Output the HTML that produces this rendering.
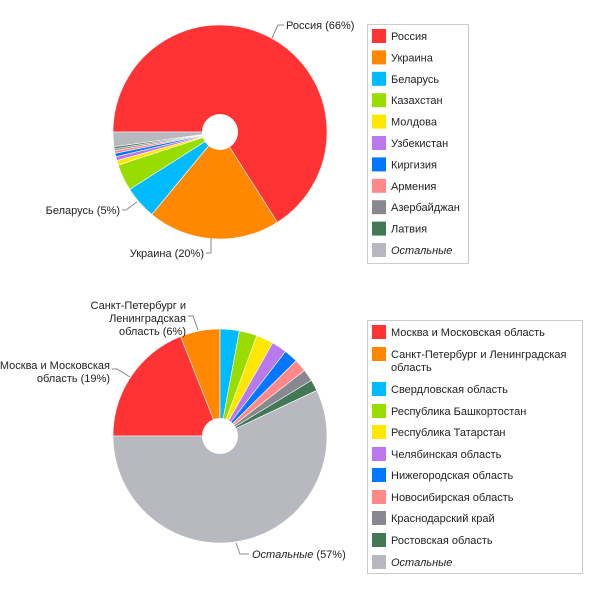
<!DOCTYPE html>
<html><head><meta charset="utf-8"><style>
body{margin:0;background:#fff;font-family:"Liberation Sans",Arial,sans-serif}
svg text{font-family:"Liberation Sans",Arial,sans-serif;font-size:11px;fill:#222}
</style></head><body>
<svg id="c" width="600" height="599"></svg>
<script>
const topCats=["Россия","Украина","Беларусь","Казахстан","Молдова","Узбекистан","Киргизия","Армения","Азербайджан","Латвия","Остальные"];
const topVals=[66,20,5,4,0.7,0.6,0.5,0.4,0.3,0.3,2.2];
const botCats=["Москва и Московская область","Санкт-Петербург и Ленинградская область","Свердловская область","Республика Башкортостан","Республика Татарстан","Челябинская область","Нижегородская область","Новосибирская область","Краснодарский край","Ростовская область","Остальные"];
const botVals=[19,6,2.9,2.7,2.6,2.3,2.1,1.9,1.8,1.7,57];
const colors=["#ff3333","#ff8800","#00bbff","#99dd00","#ffe800","#bb77ee","#0077ff","#ff8888","#888890","#447755","#b8b8c0"];
const NS="http://www.w3.org/2000/svg";
const svg=document.getElementById('c');
function mk(t,a,p){const e=document.createElementNS(NS,t);for(const k in a)e.setAttribute(k,a[k]);(p||svg).appendChild(e);return e;}
function pie(vals,cats,cx,cy,r,name){
  const g=mk('g',{});
  
  
  const tot=vals.reduce((a,b)=>a+b,0);
  let a=270;
  vals.forEach((v,i)=>{
    const s=a,e=a+v/tot*360;a=e;
    const p=(d)=>[cx+r*Math.sin(d*Math.PI/180),cy-r*Math.cos(d*Math.PI/180)];
    const [x1,y1]=p(s),[x2,y2]=p(e);
    const el=mk('path',{d:`M${cx},${cy}L${x1},${y1}A${r},${r} 0 ${e-s>180?1:0} 1 ${x2},${y2}Z`,fill:colors[i],stroke:'#fff','stroke-width':0.6},g);
    
    
  });
  const h=mk('circle',{cx:cx,cy:cy,r:18,fill:'#fff'},g);
  
  
}
pie(topVals,topCats,220,132,107,'countries-pie');
pie(botVals,botCats,220,436,107,'regions-pie');
function legend(x,y,w,h,cats,rows,name){
  const g=mk('g',{});
  
  
  mk('rect',{x:x+0.5,y:y+0.5,width:w,height:h,fill:'#fff',stroke:'#ccc'},g);
  cats.forEach((c,i)=>{
    const ry=rows[i];
    const e=mk('g',{},g);
    
    
    mk('rect',{x:x+5,y:ry-7,width:14,height:14,fill:colors[i]},e);
    const lines=Array.isArray(c)?c:[c];
    lines.forEach((l,j)=>{const t=mk('text',{x:x+24,y:ry+4+j*13},e);t.textContent=l;if(i==cats.length-1)t.setAttribute('font-style','italic');});
  });
}
const topRows=topCats.map((c,i)=>36+i*21.4);
legend(367,24,101,239,topCats,topRows,'countries-legend');
const botLegendCats=botCats.slice();botLegendCats[1]=["Санкт-Петербург и Ленинградская","область"];
const botRows=[332,354,389,411,432,454,475,497,518,540,562];
legend(367,320,215,253,botLegendCats,botRows,'regions-legend');
function label(lines,x,y,anchor,pts,name,italicFirst){
  const g=mk('g',{});
  
  
  mk('polyline',{points:pts,fill:'none',stroke:'#888','stroke-width':1},g);
  lines.forEach((l,j)=>{const t=mk('text',{x:x,y:y+j*13,'text-anchor':anchor},g);
    if(italicFirst){const a=mk('tspan',{'font-style':'italic'},t);a.textContent=l[0];const b=mk('tspan',{},t);b.textContent=l[1];}else t.textContent=l;});
}
label(["Россия (66%)"],286,29,'start','272,38 278,25 284,25','russia-label');
label(["Украина (20%)"],204,257,'end','211,238 211,253 206,253','ukraine-label');
label(["Беларусь (5%)"],120,214,'end','137,202 126,210 122,210','belarus-label');
label(["Санкт-Петербург и","Ленинградская","область (6%)"],186,309,'end','198,330 193,316 188,316','spb-label');
label(["Москва и Московская","область (19%)"],110,369,'end','130,377 117,369 112,369','moscow-label');
label([["Остальные"," (57%)"]],252,558,'start','236,543 240,554 249,554','others-label',true);
</script>
</body></html>
